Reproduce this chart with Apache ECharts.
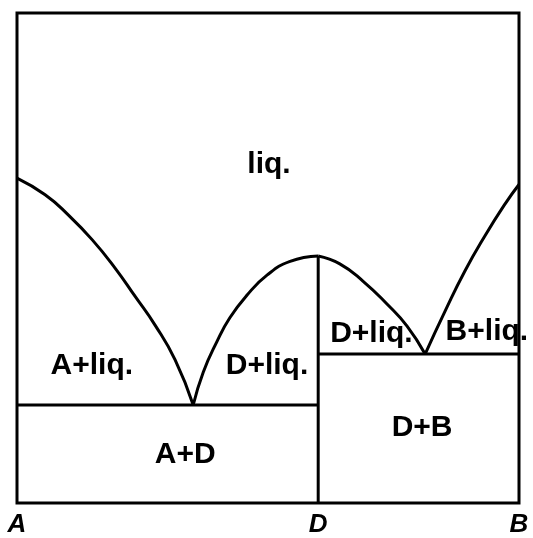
<!DOCTYPE html>
<html>
<head>
<meta charset="utf-8">
<script src="https://cdn.jsdelivr.net/npm/echarts@6/dist/echarts.min.js"></script>
<style>
  html, body { margin: 0; padding: 0; background: #fff; }
  #chart { width: 533px; height: 538px; }
</style>
</head>
<body>
<div id="chart"></div>
<script>
  // composition axis: 0 = A, 60 = D, 100 = B ; temperature axis 0..100 (arbitrary)
  var axisTicks = [0, 60, 100];
  var axisNames = ['A', 'D', 'B'];

  // liquidus of A (A -> eutectic 1)
  var liquidusA = [[0, 66.3], [5.6, 62.9], [10.2, 58.8], [15.0, 53.7], [19.5, 48.0],
                   [23.5, 42.2], [27.5, 36.3], [31.5, 29.2], [35.1, 20.0]];
  // liquidus of D, left branch (eutectic 1 -> congruent melting point)
  var liquidusDLeft = [[35.1, 20.0], [37.1, 26.7], [39.8, 32.9], [42.4, 37.8], [45.8, 42.4],
                       [49.8, 46.5], [54.4, 49.3], [60, 50.4]];
  // liquidus of D, right branch (melting point -> eutectic 2)
  var liquidusDRight = [[60, 50.4], [64.3, 48.8], [68.9, 45.3], [73.7, 40.6], [77.7, 36.1], [81.3, 30.4]];
  // liquidus of B (eutectic 2 -> B)
  var liquidusB = [[81.3, 30.4], [85.3, 39.2], [89.2, 47.3], [93.2, 54.5], [97.2, 61.0], [100, 65.0]];

  // eutectic lines and the compound D
  var eutectic1 = [[0, 20.0], [60, 20.0]];
  var eutectic2 = [[60, 30.4], [100, 30.4]];
  var compoundD = [[60, 0], [60, 50.4]];

  // phase field labels
  var fieldNames = ['liq.', 'A+liq.', 'D+liq.', 'D+liq.', 'B+liq.', 'A+D', 'D+B'];
  var fieldPos = [[50.2, 69.0], [14.9, 28.0], [49.8, 28.0], [70.6, 34.5], [93.6, 34.9], [33.5, 9.8], [80.7, 15.3]];

  var chart = echarts.init(document.getElementById('chart'));

  function lineSeries(data) {
    return {
      type: 'line',
      data: data,
      smooth: 0.5,
      symbol: 'none',
      silent: true,
      lineStyle: { color: '#000', width: 3 }
    };
  }

  var fieldData = fieldNames.map(function(n, i) {
    return { name: n, value: fieldPos[i] };
  });

  chart.setOption({
    animation: false,
    backgroundColor: '#fff',
    grid: {
      left: 17, right: 14, top: 13, bottom: 35,
      show: true,
      borderColor: '#000',
      borderWidth: 3,
      backgroundColor: 'transparent'
    },
    xAxis: {
      type: 'value',
      min: 0, max: 100,
      axisLine: { show: false },
      axisTick: { show: false },
      splitLine: { show: false },
      axisLabel: {
        customValues: axisTicks,
        formatter: function(v) { return axisNames[axisTicks.indexOf(v)]; },
        color: '#000',
        fontSize: 26,
        fontStyle: 'italic',
        fontWeight: 'bold',
        fontFamily: 'Liberation Sans, Arial, sans-serif',
        margin: 9
      }
    },
    yAxis: {
      type: 'value',
      min: 0, max: 100,
      axisLine: { show: false },
      axisTick: { show: false },
      splitLine: { show: false },
      axisLabel: { show: false }
    },
    series: [
      lineSeries(liquidusA),
      lineSeries(liquidusDLeft),
      lineSeries(liquidusDRight),
      lineSeries(liquidusB),
      lineSeries(eutectic1),
      lineSeries(eutectic2),
      lineSeries(compoundD),
      {
        type: 'scatter',
        data: fieldData,
        symbolSize: 0,
        silent: true,
        itemStyle: { opacity: 1 },
        label: {
          show: true,
          position: 'inside',
          formatter: '{b}',
          color: '#000',
          opacity: 1,
          textBorderWidth: 0,
          fontSize: 30,
          fontWeight: 'bold',
          fontFamily: 'Liberation Sans, Arial, sans-serif'
        }
      }
    ]
  });
</script>
</body>
</html>
